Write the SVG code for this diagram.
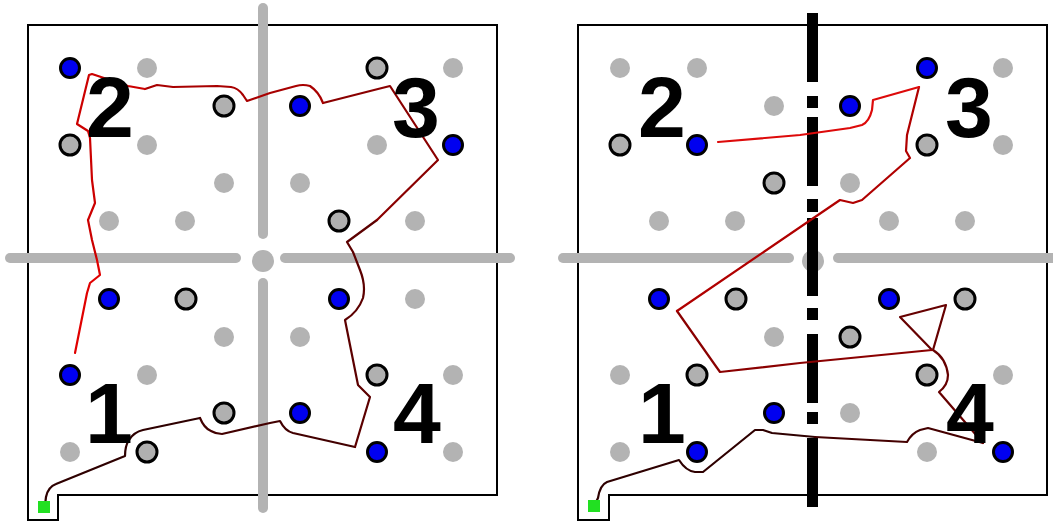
<svg xmlns="http://www.w3.org/2000/svg" width="1053" height="522" viewBox="0 0 1053 522">
<style>
.axis{stroke:#b3b3b3;stroke-width:10;stroke-linecap:round;fill:none}
.hub{fill:#b3b3b3}
.frame{fill:none;stroke:#000;stroke-width:2}
.g{fill:#b3b3b3}
.r{fill:#b0b0b0;stroke:#000;stroke-width:3}
.b{fill:#0000f0;stroke:#000;stroke-width:3}
.num{font-family:"Liberation Sans",Arial,sans-serif;font-weight:bold;font-size:86px;fill:#000;text-anchor:middle}
.p{fill:none;stroke-width:2.2;stroke-linejoin:round;stroke-linecap:round}
.start{fill:#22e022}
</style>
<rect width="1053" height="522" fill="#fff"/>

<!-- LEFT PANEL -->
<g id="left-panel">
  <g id="left-frame"><path class="frame" d="M28,25 H497 V495 H58 V520 H28 Z"/></g>
  <g id="left-axes">
    <line class="axis" x1="10" y1="258" x2="236" y2="258"/>
    <line class="axis" x1="285" y1="258" x2="510" y2="258"/>
    <line class="axis" x1="263" y1="8" x2="263" y2="234"/>
    <line class="axis" x1="263" y1="283" x2="263" y2="508"/>
    <circle class="hub" cx="263" cy="261" r="11"/>
  </g>
  <g id="left-dots">
    <circle id="L-d1" class="b" cx="70" cy="68" r="9.5"/>
    <circle id="L-d2" class="g" cx="147" cy="68" r="10"/>
    <circle id="L-d3" class="r" cx="224" cy="106" r="10"/>
    <circle id="L-d4" class="r" cx="70" cy="145" r="10"/>
    <circle id="L-d5" class="g" cx="147" cy="145" r="10"/>
    <circle id="L-d6" class="g" cx="224" cy="183" r="10"/>
    <circle id="L-d7" class="g" cx="109" cy="221" r="10"/>
    <circle id="L-d8" class="g" cx="185" cy="221" r="10"/>
    <circle id="L-d9" class="r" cx="377" cy="68" r="10"/>
    <circle id="L-d10" class="g" cx="453" cy="68" r="10"/>
    <circle id="L-d11" class="b" cx="300" cy="106" r="9.5"/>
    <circle id="L-d12" class="g" cx="377" cy="145" r="10"/>
    <circle id="L-d13" class="b" cx="453" cy="145" r="9.5"/>
    <circle id="L-d14" class="g" cx="300" cy="183" r="10"/>
    <circle id="L-d15" class="r" cx="339" cy="221" r="10"/>
    <circle id="L-d16" class="g" cx="415" cy="221" r="10"/>
    <circle id="L-d17" class="b" cx="109" cy="299" r="9.5"/>
    <circle id="L-d18" class="r" cx="186" cy="299" r="10"/>
    <circle id="L-d19" class="g" cx="224" cy="337" r="10"/>
    <circle id="L-d20" class="b" cx="70" cy="375" r="9.5"/>
    <circle id="L-d21" class="g" cx="147" cy="375" r="10"/>
    <circle id="L-d22" class="r" cx="224" cy="413" r="10"/>
    <circle id="L-d23" class="g" cx="70" cy="452" r="10"/>
    <circle id="L-d24" class="r" cx="147" cy="452" r="10"/>
    <circle id="L-d25" class="b" cx="339" cy="299" r="9.5"/>
    <circle id="L-d26" class="g" cx="415" cy="299" r="10"/>
    <circle id="L-d27" class="g" cx="300" cy="337" r="10"/>
    <circle id="L-d28" class="r" cx="377" cy="375" r="10"/>
    <circle id="L-d29" class="g" cx="453" cy="375" r="10"/>
    <circle id="L-d30" class="b" cx="300" cy="413" r="9.5"/>
    <circle id="L-d31" class="b" cx="377" cy="452" r="9.5"/>
    <circle id="L-d32" class="g" cx="453" cy="452" r="10"/>
  </g>
</g>

<!-- RIGHT PANEL -->
<g id="right-panel">
  <g id="right-frame"><path class="frame" d="M578,25 H1047 V495 H609 V520 H578 Z"/></g>
  <g id="right-axes">
    <line class="axis" x1="563" y1="258" x2="789" y2="258"/>
    <line class="axis" x1="838" y1="258" x2="1065" y2="258"/>
    <circle class="hub" cx="813" cy="261" r="11"/>
  </g>
  <g id="right-dots">
    <circle id="R-d1" class="g" cx="620" cy="68" r="10"/>
    <circle id="R-d2" class="g" cx="697" cy="68" r="10"/>
    <circle id="R-d3" class="g" cx="774" cy="106" r="10"/>
    <circle id="R-d4" class="r" cx="620" cy="145" r="10"/>
    <circle id="R-d5" class="b" cx="697" cy="145" r="9.5"/>
    <circle id="R-d6" class="r" cx="774" cy="183" r="10"/>
    <circle id="R-d7" class="g" cx="659" cy="221" r="10"/>
    <circle id="R-d8" class="g" cx="735" cy="221" r="10"/>
    <circle id="R-d9" class="b" cx="927" cy="68" r="9.5"/>
    <circle id="R-d10" class="g" cx="1003" cy="68" r="10"/>
    <circle id="R-d11" class="b" cx="850" cy="106" r="9.5"/>
    <circle id="R-d12" class="r" cx="927" cy="145" r="10"/>
    <circle id="R-d13" class="g" cx="1003" cy="145" r="10"/>
    <circle id="R-d14" class="g" cx="850" cy="183" r="10"/>
    <circle id="R-d15" class="g" cx="889" cy="221" r="10"/>
    <circle id="R-d16" class="g" cx="965" cy="221" r="10"/>
    <circle id="R-d17" class="b" cx="659" cy="299" r="9.5"/>
    <circle id="R-d18" class="r" cx="736" cy="299" r="10"/>
    <circle id="R-d19" class="g" cx="774" cy="337" r="10"/>
    <circle id="R-d20" class="g" cx="620" cy="375" r="10"/>
    <circle id="R-d21" class="r" cx="697" cy="375" r="10"/>
    <circle id="R-d22" class="b" cx="774" cy="413" r="9.5"/>
    <circle id="R-d23" class="g" cx="620" cy="452" r="10"/>
    <circle id="R-d24" class="b" cx="697" cy="452" r="9.5"/>
    <circle id="R-d25" class="b" cx="889" cy="299" r="9.5"/>
    <circle id="R-d26" class="r" cx="965" cy="299" r="10"/>
    <circle id="R-d27" class="r" cx="850" cy="337" r="10"/>
    <circle id="R-d28" class="r" cx="927" cy="375" r="10"/>
    <circle id="R-d29" class="g" cx="1003" cy="375" r="10"/>
    <circle id="R-d30" class="g" cx="850" cy="413" r="10"/>
    <circle id="R-d31" class="g" cx="927" cy="452" r="10"/>
    <circle id="R-d32" class="b" cx="1003" cy="452" r="9.5"/>
  </g>
  <g id="right-divider" fill="#000">
    <rect x="807" y="13" width="11" height="69"/>
    <rect x="807" y="96" width="11" height="12"/>
    <rect x="807" y="117" width="11" height="69"/>
    <rect x="807" y="199" width="11" height="13"/>
    <rect x="807" y="218" width="11" height="78"/>
    <rect x="807" y="308" width="11" height="12"/>
    <rect x="807" y="334" width="11" height="69"/>
    <rect x="807" y="412" width="11" height="12"/>
    <rect x="807" y="438" width="11" height="69"/>
  </g>
</g>

<!-- CONNECTORS -->
<g id="connectors">
  <path class="p" stroke="#2e0000" d="M45,505 L46,497 Q48,487 56,484 L125,456 Q125,446 129,440 Q134,432 143,430 L200,418"/>
  <path class="p" stroke="#420000" d="M200,418 Q204,428 211,431 Q216,434 222,434 L270,423 L280,421 Q285,431 293,433 L355,447"/>
  <path class="p" stroke="#5c0000" d="M355,447 L370,397 L358,385 L345,320 Q358,312 363,298 Q366,285 360,270 L353,252 L347,242 L377,220"/>
  <path class="p" stroke="#8a0000" d="M377,220 L438,160 L390,86 L378,89 L323,103"/>
  <path class="p" stroke="#a80000" d="M323,103 Q319,92 310,86 Q303,84 296,86 L270,93 L247,101 L243,95 Q238,88 231,87 L217,86 L173,87 L157,85 L145,89"/>
  <path class="p" stroke="#cc0000" d="M145,89 L128,86 L92,74 L89,75 L77,124 L88,131 L90,138 L92,180 L95,203 L88,220 L92,240 L97,260"/>
  <path class="p" stroke="#e00000" d="M97,260 L100,275 L90,283 L87,293 L75,353"/>

  <path class="p" stroke="#2e0000" d="M594,506 L598,498 Q600,485 607,482 L679,460 Q686,471 695,472 L703,472 L755,430 L763,430 L772,433 L815,437"/>
  <path class="p" stroke="#440000" d="M815,437 L907,442 Q912,433 920,430 L928,428 L983,443"/>
  <path class="p" stroke="#660000" d="M983,443 L939,392 Q948,385 948,375 Q946,358 933,350 L946,305 L900,317 L932,350"/>
  <path class="p" stroke="#8a0000" d="M932,350 L800,363 L720,372 L715,365 L677,311"/>
  <path class="p" stroke="#b00000" d="M677,311 L815,217 L840,200 L853,203 L862,200 L910,158 L906,151 L907,135 L919,87"/>
  <path class="p" stroke="#dd0a0a" d="M919,87 L873,100 L872,110 Q869,122 862,125 L850,128 L800,135 L718,142"/>
</g>

<g id="starts">
  <rect id="L-start" class="start" x="38" y="501" width="12" height="12"/>
  <rect id="R-start" class="start" x="588" y="500" width="12" height="12"/>
</g>

<g id="labels">
  <text class="num" x="110" y="137">2</text>
  <text class="num" x="416" y="137">3</text>
  <text class="num" x="109" y="443">1</text>
  <text class="num" x="417" y="443">4</text>
  <text class="num" x="662" y="137">2</text>
  <text class="num" x="969" y="137">3</text>
  <text class="num" x="662" y="443">1</text>
  <text class="num" x="970" y="443">4</text>
</g>
</svg>
